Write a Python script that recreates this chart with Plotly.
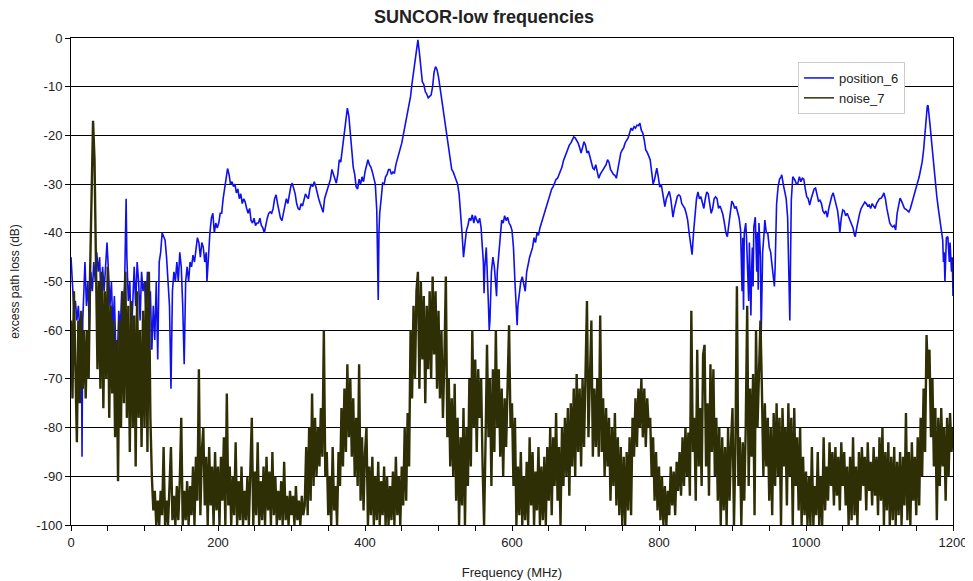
import plotly.graph_objects as go
import numpy as np

# ---- position_6 (blue) : frequency (MHz) and excess path loss (dB)
pos_freq = [0,2,4,6,8,10,12,14,15,16,18,19,21,23,25,27,29,31,33,35,37,39,41,43,45,47,49,51,53,55,57,59,61,62,63,65,67,69,71,73,75,76,78,80,82,84,86,88,90,92,94,96,98,100,102,104,106,108,110,112,114,116,118,120,122,124,126,128,130,132,134,136,138,140,142,144,146,148,150,152,154,156,158,160,162,164,166,168,170,172,174,176,178,180,182,184,185,187,189,191,193,195,197,199,201,203,205,207,209,211,213,215,217,219,221,223,225,227,229,231,233,235,237,239,241,243,245,247,249,251,253,255,257,259,261,263,265,267,269,271,273,275,277,279,281,283,285,287,289,291,293,295,297,299,301,303,305,307,309,311,313,315,317,319,321,323,325,327,329,331,333,335,337,339,341,343,345,347,349,351,353,355,357,359,361,363,365,367,369,371,373,375,376,378,380,382,384,386,388,390,392,394,396,398,400,402,404,406,408,410,412,414,416,417,418,419,420,422,424,426,428,430,432,434,436,438,440,442,444,446,448,450,452,454,456,458,460,462,464,466,468,470,472,474,476,478,480,482,484,486,488,490,492,494,496,498,500,502,504,506,508,510,512,514,516,518,520,522,524,526,528,530,532,534,536,538,540,542,544,546,548,550,552,554,556,558,559,561,562,563,565,566,568,569,570,572,574,576,578,579,580,582,584,586,588,590,592,594,596,598,600,602,604,606,607,608,610,612,614,616,618,620,622,624,626,628,630,632,634,636,638,640,642,644,646,648,650,652,654,656,658,660,662,664,666,668,670,672,674,676,678,680,682,684,686,688,690,692,694,696,698,700,702,704,706,708,710,712,714,716,718,720,722,724,726,728,730,732,734,736,738,740,742,744,746,748,750,752,754,756,758,760,762,764,766,768,770,772,774,776,778,780,782,784,786,788,790,792,794,796,797,799,801,803,805,807,808,810,812,814,816,818,819,821,823,825,827,829,831,833,835,837,839,841,843,845,847,849,851,853,855,857,859,861,863,865,867,869,871,873,875,877,879,881,883,885,887,889,891,893,895,897,899,901,903,905,907,909,911,912,913,914,915,916,918,919,920,921,922,923,925,926,927,928,929,931,932,933,934,935,936,938,939,940,941,943,944,946,948,950,952,953,955,957,958,959,960,962,964,966,967,969,971,973,975,977,978,979,980,982,984,985,987,989,991,993,995,997,999,1001,1003,1005,1007,1009,1011,1013,1015,1017,1019,1021,1023,1025,1027,1029,1031,1033,1035,1037,1039,1041,1043,1045,1046,1048,1050,1052,1054,1056,1058,1060,1062,1064,1066,1067,1069,1071,1073,1075,1077,1079,1080,1082,1084,1086,1088,1090,1092,1094,1096,1098,1100,1102,1104,1106,1108,1110,1112,1114,1116,1118,1120,1122,1124,1126,1128,1130,1132,1134,1136,1138,1140,1142,1144,1146,1148,1150,1152,1154,1156,1158,1160,1162,1163,1165,1166,1167,1169,1171,1173,1175,1177,1178,1180,1182,1184,1186,1187,1188,1189,1190,1191,1193,1194,1195,1196,1197,1198,1199,1200]
pos_db = [-45,-52,-56,-54,-58,-55,-60,-57,-86,-58,-50,-46,-55,-50,-60,-48,-52,-46,-50,-44,-48,-45,-55,-47,-52,-46,-42,-48,-55,-50,-60,-53,-62,-70,-66,-56,-60,-52,-56,-50,-33,-45,-54,-50,-62,-52,-47,-55,-46,-50,-58,-48,-52,-50,-56,-48,-58,-52,-64,-55,-62,-50,-66,-46,-44,-40,-41,-41.5,-45,-50,-55,-72,-52,-48,-50,-46,-50,-44,-47,-55,-67,-50,-47,-50,-46,-47,-44.6,-46,-43,-41,-42,-45,-42,-43,-46,-44,-50,-44,-40,-37,-36,-40,-38,-39,-38,-36,-36,-33,-31,-28,-26.8,-28,-30,-29.5,-30.5,-30,-31.8,-31,-33,-32,-34,-33,-33.7,-35,-36,-35,-37.5,-38,-37,-38.5,-38,-38,-37,-38.5,-39,-40,-38,-37,-36,-35.7,-36,-35,-33,-32.2,-34,-35.5,-37,-37.5,-36,-35,-33,-34,-32,-30.5,-29.8,-31,-32,-34,-35,-35.3,-34,-34.5,-33,-32,-32.6,-33,-31,-30,-30.5,-29.5,-30.5,-32,-33,-34,-35,-35.8,-33,-32,-31.2,-30,-29,-27,-28,-29,-29.8,-28,-25,-25.5,-23,-21,-19,-15.5,-14.4,-16,-20.3,-23,-26.5,-28,-30.6,-31,-29,-30,-28.5,-29.5,-27.5,-26,-25,-26,-26.5,-27.5,-28.5,-30,-35.3,-45,-53.8,-40,-36,-33,-29.8,-30,-28.5,-28,-27,-27,-28,-27.5,-27.8,-26,-25,-23.5,-22.5,-21.6,-20,-18.5,-17,-15.5,-14,-12,-9.3,-7,-4.5,-2,-0.4,-3,-7,-9,-9.5,-11,-11.5,-12.3,-12,-11.7,-10,-7,-5.9,-6.5,-8,-10,-12.5,-14,-16.5,-18.5,-20.3,-22.5,-25,-27,-27.5,-28.5,-29.5,-30,-32,-35.3,-40,-45,-42,-39.5,-38.5,-37,-37.5,-36.3,-38,-36.5,-37.4,-38,-37,-39,-41.5,-46,-52.4,-47,-43,-46,-55,-60,-58,-48,-45,-47,-52,-53,-48,-44,-40,-37.4,-38,-36.5,-37.5,-36.8,-38,-38.5,-39.5,-43,-50,-57,-59,-55,-52,-50,-49,-51,-52,-48,-46,-45,-44,-43,-41,-42,-40,-40.5,-39,-38,-37,-35.5,-34.6,-33.5,-32.5,-31.8,-31,-30.5,-29.8,-29,-28.8,-28.1,-27.5,-26.5,-25.2,-24.4,-23.5,-22.8,-22,-21.6,-20.8,-20.3,-20.5,-21,-21.6,-22.5,-23.6,-22.5,-21.3,-22,-23.6,-23.2,-24.5,-25.5,-26.7,-27,-26,-27.5,-28.8,-28,-27.5,-27,-26.7,-26,-25,-25.5,-27,-27.5,-28,-28.2,-28.8,-27,-25,-23.6,-23,-22.5,-21.5,-20.9,-20.5,-19.5,-18.5,-19,-18.2,-18.5,-17.9,-18,-17.5,-19,-19.5,-21,-23,-23.5,-24.4,-25,-27.5,-30,-29,-27,-26.7,-28.5,-30.6,-30,-32,-33.5,-34.6,-33,-32,-31.5,-33,-35,-36.8,-35,-33.5,-32.5,-32.2,-32.5,-34,-34.6,-35,-36,-37.4,-40,-42,-44.5,-40,-36.8,-33,-31.6,-33,-32.6,-34,-35,-33,-31.6,-32,-34,-36,-35,-33,-32.6,-33,-35,-34.5,-35.3,-36.3,-38,-40,-40.8,-38,-35,-33.5,-34,-35,-34.6,-36,-37,-39.4,-45,-52,-41,-55.8,-40,-38,-40.8,-45,-50,-54,-42,-57,-48,-43,-51,-38.8,-36.8,-42,-48,-40,-51.7,-38,-45,-61,-51,-44,-40,-37.4,-40,-40,-43,-44,-45.6,-48,-51,-47,-40,-34,-30.6,-29,-28.5,-28.1,-30,-31.8,-33,-36.8,-50,-58,-45,-33.3,-28.5,-29,-29.2,-30,-29.8,-28.5,-29.5,-28.8,-29,-31,-32.6,-33,-34.3,-33,-32,-31,-30.8,-32,-33.5,-33.3,-34,-35.5,-36,-35.5,-36.8,-35,-33.5,-32.5,-31.8,-33,-34,-35.5,-38,-40,-37,-35.3,-35.5,-36.5,-36,-36.8,-37.5,-38,-39,-40.5,-40.8,-39,-37,-36,-35,-34.5,-34,-33.7,-34,-34.5,-34.3,-35,-34,-34.5,-35,-34,-33.5,-33,-32.9,-32.5,-31.8,-33,-35,-37,-38,-38.5,-38.8,-38.5,-39.4,-36,-34,-32.9,-33.5,-34.5,-35,-35.2,-35.5,-35.7,-35,-34,-32.6,-31.5,-30.5,-30,-28.5,-27,-25.5,-23,-19,-16.8,-14,-13.8,-15,-18.2,-21.5,-25,-28.5,-31,-32.6,-35,-37.4,-39,-41.5,-46,-44,-50,-45,-41,-40.8,-43,-46,-42,-44,-48,-45,-53]

# ---- noise_7 (dark olive) : one reading every 2 MHz from 0 to 1200 MHz
noise_step_mhz = 2
noise_db = [
-58,-74,-52,-70,-83,-58,-75,-56,-72,-60,
-74,-60,-70,-48,-32,-17,-25,-45,-68,-50,
-72,-48,-76,-52,-70,-47,-78,-55,-73,-58,
-82,-62,-91,-58,-80,-52,-75,-48,-78,-55,
-85,-54,-80,-57,-88,-52,-78,-60,-84,-56,
-80,-50,-85,-48,-78,-90,-97,-93,-100,-95,
-100,-93,-98,-84,-100,-95,-100,-92,-84,-99,
-94,-100,-92,-99,-91,-78,-100,-93,-99,-91,
-100,-92,-98,-88,-100,-86,-95,-68,-98,-85,
-80,-96,-86,-100,-84,-96,-88,-100,-85,-97,
-88,-100,-86,-95,-82,-100,-73,-96,-88,-100,
-90,-98,-83,-100,-91,-99,-88,-100,-93,-99,
-90,-100,-86,-78,-100,-89,-98,-83,-100,-91,
-99,-88,-100,-86,-97,-89,-100,-85,-98,-90,
-100,-93,-99,-91,-100,-87,-99,-94,-100,-93,
-98,-94,-100,-92,-99,-95,-100,-94,-98,-96,
-84,-98,-80,-95,-73,-92,-78,-90,-80,-88,
-76,-86,-60,-90,-85,-98,-90,-100,-84,-97,
-92,-100,-85,-92,-76,-88,-72,-85,-67,-82,
-70,-86,-74,-90,-78,-92,-67,-95,-82,-97,
-85,-80,-100,-88,-98,-86,-100,-90,-99,-87,
-100,-91,-98,-88,-100,-90,-100,-92,-99,-89,
-100,-86,-98,-90,-100,-88,-96,-80,-95,-77,
-88,-60,-74,-55,-70,-52,-48,-72,-50,-66,
-53,-75,-55,-68,-52,-70,-49,-65,-52,-72,
-56,-74,-60,-78,-66,-49,-82,-70,-88,-74,
-90,-71,-95,-78,-100,-82,-96,-76,-100,-80,
-92,-70,-88,-60,-80,-66,-85,-68,-78,-70,
-88,-100,-83,-63,-82,-70,-92,-68,-85,-60,
-80,-68,-86,-72,-90,-74,-84,-70,-59,-80,
-75,-92,-78,-100,-88,-98,-85,-100,-90,-99,
-87,-100,-82,-96,-85,-100,-89,-97,-84,-100,
-88,-99,-86,-100,-84,-95,-80,-98,-82,-92,
-77,-95,-84,-100,-80,-92,-78,-90,-76,-94,
-75,-88,-72,-90,-69,-85,-72,-88,-70,-84,
-66,-54,-82,-70,-58,-86,-72,-84,-70,-86,
-57,-85,-74,-90,-76,-88,-78,-95,-80,-92,
-77,-96,-82,-98,-84,-100,-86,-100,-85,-97,
-82,-98,-78,-86,-74,-84,-72,-80,-70,-82,
-72,-84,-74,-80,-78,-90,-82,-95,-85,-97,
-88,-99,-90,-100,-92,-100,-93,-98,-88,-96,
-89,-98,-87,-93,-85,-94,-82,-92,-80,-90,
-81,-94,-56,-85,-78,-95,-64,-88,-76,-92,
-65,-63,-88,-75,-94,-67,-85,-68,-90,-78,
-95,-80,-100,-82,-97,-84,-100,-80,-95,-83,
-76,-100,-84,-51,-92,-82,-100,-83,-95,-80,
-55,-92,-72,-86,-69,-98,-60,-80,-70,-58,
-72,-90,-75,-88,-78,-95,-80,-98,-77,-92,
-75,-90,-78,-100,-76,-88,-80,-96,-75,-90,
-78,-100,-76,-92,-82,-97,-80,-100,-86,-98,
-89,-100,-90,-100,-84,-100,-92,-98,-85,-100,
-90,-100,-82,-97,-88,-95,-83,-92,-85,-96,
-84,-94,-86,-97,-83,-92,-85,-96,-88,-100,
-86,-99,-82,-98,-88,-100,-85,-95,-84,-92,
-86,-97,-83,-93,-87,-96,-84,-94,-86,-98,
-82,-95,-80,-100,-85,-97,-83,-100,-86,-99,
-84,-100,-87,-98,-85,-100,-86,-96,-77,-99,
-85,-100,-83,-95,-86,-98,-82,-96,-78,-90,
-72,-85,-61,-70,-64,-82,-70,-88,-76,-99,
-78,-92,-76,-88,-80,-95,-78,-90,-77,-85,
-80]
noise_freq = [i * noise_step_mhz for i in range(len(noise_db))]

x_tick_vals = list(range(0, 1201, 50))
x_tick_text = [str(v) if v % 200 == 0 else "" for v in x_tick_vals]
y_tick_vals = list(range(0, -101, -10))
y_tick_text = [str(v) for v in y_tick_vals]

FONT = "Liberation Sans, Arial, sans-serif"
BLUE = "#1010ee"
OLIVE = "#2f2f05"

# the page body adds an 8 px margin, so the figure is sized to the remaining space
W, H = 965, 573

fig = go.Figure()
fig.add_trace(go.Scatter(x=pos_freq, y=pos_db, mode="lines", name="position_6",
                         line=dict(color=BLUE, width=1.6), showlegend=False))
fig.add_trace(go.Scatter(x=noise_freq, y=noise_db, mode="lines", name="noise_7",
                         line=dict(color=OLIVE, width=2.4), showlegend=False))
# legend entries drawn with thin sample lines, as in the original legend
fig.add_trace(go.Scatter(x=[None], y=[None], mode="lines", name="position_6",
                         line=dict(color=BLUE, width=1.5)))
fig.add_trace(go.Scatter(x=[None], y=[None], mode="lines", name="noise_7",
                         line=dict(color=OLIVE, width=1.5)))

fig.update_layout(
    width=W, height=H,
    margin=dict(l=63, r=20, t=30, b=56, autoexpand=False),
    paper_bgcolor="white", plot_bgcolor="white",
    font=dict(family=FONT, size=13, color="#222"),
    title=dict(text="<b>SUNCOR-low frequencies</b>", x=476 / W, xanchor="center",
               xref="container", yref="container",
               y=1 - 9 / H, yanchor="middle", font=dict(size=18, color="#222")),
    legend=dict(x=(798 - 71) / 882, y=(525 - 62) / 487, xanchor="left", yanchor="top",
                bgcolor="white", bordercolor="#cccccc", borderwidth=1,
                font=dict(size=13, color="#222"), tracegroupgap=0,
                itemwidth=30),
    showlegend=True,
)
fig.update_xaxes(range=[0, 1200], tickmode="array", tickvals=x_tick_vals, ticktext=x_tick_text,
                 ticks="outside", ticklen=5, tickcolor="black", showgrid=False, automargin=False,
                 showline=True, linecolor="black", linewidth=1, mirror=True, zeroline=False,
                 title=dict(text="Frequency (MHz)", font=dict(size=13), standoff=19),
                 tickfont=dict(size=13))
fig.update_yaxes(range=[-100, 0], tickmode="array", tickvals=y_tick_vals, ticktext=y_tick_text,
                 ticks="outside", ticklen=5, tickcolor="black", showgrid=True, automargin=False,
                 gridcolor="black", gridwidth=1.3,
                 showline=True, linecolor="black", linewidth=1, mirror=True, zeroline=False,
                 title=dict(text="excess path loss (dB)", font=dict(size=12), standoff=14),
                 tickfont=dict(size=13))

fig.write_html("out.html")
